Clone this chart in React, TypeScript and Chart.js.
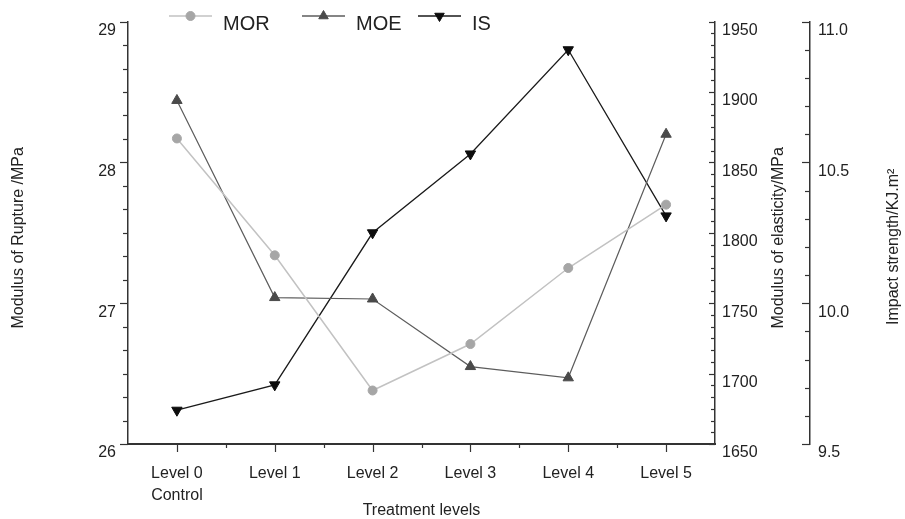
import React, { useEffect, useRef } from 'react';
import { Chart, registerables } from 'chart.js';

Chart.register(...registerables);

// ---- data ----
const categories: (string | string[])[] = [['Level 0', 'Control'], 'Level 1', 'Level 2', 'Level 3', 'Level 4', 'Level 5'];
const seriesNames = ['MOR', 'MOE', 'IS'];
const morValues = [28.17, 27.34, 26.38, 26.71, 27.25, 27.7];
const moeValues = [1894, 1754, 1753, 1705, 1697, 1870];
const isValues = [9.62, 9.71, 10.25, 10.53, 10.9, 10.31];
const morAxis = { min: 26, max: 29, step: 1 };
const moeAxis = { min: 1650, max: 1950, step: 50 };
const isAxis = { min: 9.5, max: 11.0, step: 0.5 };
const axisTitles = {
  x: 'Treatment levels',
  mor: 'Modulus of Rupture /MPa',
  moe: 'Modulus of elasticity/MPa',
  is: 'Impact strength/KJ.m\u00B2',
};

// ---- styles ----
const FONT = '"Liberation Sans", Arial, Helvetica, sans-serif';
const TEXT = '#222222';
const AXIS = '#333333';
const MOR_LINE = '#c2c2c2';
const MOR_PT = '#a6a6a6';
const MOE_LINE = '#5c5c5c';
const MOE_PT = '#4a4a4a';
const IS_LINE = '#1a1a1a';
const IS_PT = '#0d0d0d';

const line = (ctx: CanvasRenderingContext2D, x1: number, y1: number, x2: number, y2: number) => {
  ctx.beginPath();
  ctx.moveTo(x1, y1);
  ctx.lineTo(x2, y2);
  ctx.stroke();
};

const tickPlugin = {
  id: 'customTicks',
  afterDraw(chart: any) {
    const ctx: CanvasRenderingContext2D = chart.ctx;
    ctx.save();
    ctx.strokeStyle = AXIS;
    ctx.lineWidth = 1.2;
    const vTicks = (scale: any, x: number, dir: number, majorLen: number, minorLen: number, div: number) => {
      const vals = scale.ticks.map((t: any) => t.value);
      for (let i = 0; i < vals.length; i++) {
        const y = Math.round(scale.getPixelForValue(vals[i])) + 0.5;
        line(ctx, x, y, x + dir * majorLen, y);
        if (i < vals.length - 1) {
          for (let k = 1; k < div; k++) {
            const v = vals[i] + ((vals[i + 1] - vals[i]) * k) / div;
            const yy = Math.round(scale.getPixelForValue(v)) + 0.5;
            line(ctx, x, yy, x + dir * minorLen, yy);
          }
        }
      }
    };
    const y = chart.scales.y;
    const y1 = chart.scales.y1;
    const y2 = chart.scales.y2;
    const xs = chart.scales.x;
    vTicks(y, y.right, -1, 8, 5, 6);
    vTicks(y1, y1.left, -1, 6, 4, 6);
    vTicks(y2, y2.left, -1, 8, 5, 5);
    const n = categories.length;
    for (let i = 0; i < n; i++) {
      const px = Math.round(xs.getPixelForValue(i)) + 0.5;
      line(ctx, px, xs.top, px, xs.top + 8);
      if (i < n - 1) {
        const mx = Math.round((xs.getPixelForValue(i) + xs.getPixelForValue(i + 1)) / 2) + 0.5;
        line(ctx, mx, xs.top, mx, xs.top + 4);
      }
    }
    ctx.restore();
  },
};

const titlePlugin = {
  id: 'axisTitles',
  afterDraw(chart: any) {
    const ctx: CanvasRenderingContext2D = chart.ctx;
    const ca = chart.chartArea;
    const cy = (ca.top + ca.bottom) / 2;
    ctx.save();
    ctx.fillStyle = TEXT;
    ctx.font = `16px ${FONT}`;
    ctx.textAlign = 'center';
    ctx.textBaseline = 'middle';
    const rot = (text: string, x: number, yy: number) => {
      ctx.save();
      ctx.translate(x, yy);
      ctx.rotate(-Math.PI / 2);
      ctx.fillText(text, 0, 0);
      ctx.restore();
    };
    rot(axisTitles.mor, 19, cy + 5);
    rot(axisTitles.moe, chart.scales.y1.left + 64, cy + 5);
    rot(axisTitles.is, chart.scales.y2.left + 84, cy + 14);
    ctx.fillText(axisTitles.x, (ca.left + ca.right) / 2, 511);
    ctx.restore();
  },
};

const legendPlugin = {
  id: 'customLegend',
  afterDraw(chart: any) {
    const ctx: CanvasRenderingContext2D = chart.ctx;
    const ca = chart.chartArea;
    const starts = [41, 174, 290];
    const lineLen = 43;
    const lineY = 16;
    ctx.save();
    chart.data.datasets.forEach((ds: any, i: number) => {
      const x0 = ca.left + starts[i];
      ctx.strokeStyle = ds.borderColor;
      ctx.lineWidth = 1.5;
      line(ctx, x0, lineY, x0 + lineLen, lineY);
      ctx.fillStyle = ds.pointBackgroundColor;
      ctx.strokeStyle = ds.pointBorderColor;
      ctx.lineWidth = 1;
      const isCircle = ds.pointStyle === 'circle';
      (Chart as any).helpers?.drawPoint;
      const r = isCircle ? 4.5 : 5.5;
      ctx.beginPath();
      if (isCircle) {
        ctx.arc(x0 + lineLen / 2, lineY, r, 0, Math.PI * 2);
      } else {
        const rotation = ((ds.pointRotation || 0) * Math.PI) / 180;
        const cx = x0 + lineLen / 2;
        for (let k = 0; k < 3; k++) {
          const a = rotation + (k * 2 * Math.PI) / 3;
          const px = cx + Math.sin(a) * r;
          const py = lineY - Math.cos(a) * r;
          if (k === 0) ctx.moveTo(px, py);
          else ctx.lineTo(px, py);
        }
        ctx.closePath();
      }
      ctx.fill();
      ctx.stroke();
      ctx.fillStyle = TEXT;
      ctx.font = `20px ${FONT}`;
      ctx.textAlign = 'left';
      ctx.textBaseline = 'middle';
      ctx.fillText(ds.label, x0 + lineLen + 11, 24);
    });
    ctx.restore();
  },
};

export default function App() {
  const canvasRef = useRef<HTMLCanvasElement | null>(null);

  useEffect(() => {
    document.body.style.margin = '0';
    document.body.style.overflow = 'hidden';
    const canvas = canvasRef.current;
    if (!canvas) return;
    Chart.defaults.font.family = FONT;
    Chart.defaults.color = TEXT;

    const borderOpt = { display: true, color: AXIS, width: 1.5 };
    const gridOpt = { display: true, drawOnChartArea: false, drawTicks: false };

    const chart = new Chart(canvas, {
      type: 'line',
      data: {
        labels: categories as any,
        datasets: [
          {
            label: seriesNames[0],
            data: morValues,
            yAxisID: 'y',
            borderColor: MOR_LINE,
            borderWidth: 1.5,
            pointStyle: 'circle',
            pointRadius: 4.5,
            pointBackgroundColor: MOR_PT,
            pointBorderColor: MOR_PT,
            pointBorderWidth: 1,
            tension: 0,
            clip: false as any,
          },
          {
            label: seriesNames[1],
            data: moeValues,
            yAxisID: 'y1',
            borderColor: MOE_LINE,
            borderWidth: 1.2,
            pointStyle: 'triangle',
            pointRadius: 6,
            pointBackgroundColor: MOE_PT,
            pointBorderColor: MOE_PT,
            pointBorderWidth: 1,
            tension: 0,
            clip: false as any,
          },
          {
            label: seriesNames[2],
            data: isValues,
            yAxisID: 'y2',
            borderColor: IS_LINE,
            borderWidth: 1.3,
            pointStyle: 'triangle',
            pointRotation: 180,
            pointRadius: 6,
            pointBackgroundColor: IS_PT,
            pointBorderColor: IS_PT,
            pointBorderWidth: 1,
            tension: 0,
            clip: false as any,
          },
        ],
      },
      options: {
        responsive: false,
        animation: false,
        layout: { padding: { top: 21, left: 0, right: 0, bottom: 0 } },
        plugins: { legend: { display: false }, tooltip: { enabled: false } },
        scales: {
          x: {
            type: 'category',
            offset: true,
            grid: gridOpt,
            border: { ...borderOpt, width: 2 },
            ticks: {
              padding: 19,
              maxRotation: 0,
              autoSkip: false,
              color: TEXT,
              font: { size: 16, lineHeight: 1.375 },
            },
            afterFit: (s: any) => {
              s.height = 75;
            },
          },
          y: {
            type: 'linear',
            position: 'left',
            min: morAxis.min,
            max: morAxis.max,
            grid: gridOpt,
            border: borderOpt,
            ticks: {
              stepSize: morAxis.step,
              padding: 12,
              labelOffset: 9,
              color: TEXT,
              font: { size: 16 },
              callback: (v: any) => String(v),
            },
            afterFit: (s: any) => {
              s.width = 128;
            },
          },
          y1: {
            type: 'linear',
            position: 'right',
            min: moeAxis.min,
            max: moeAxis.max,
            grid: gridOpt,
            border: borderOpt,
            ticks: {
              stepSize: moeAxis.step,
              padding: 7,
              labelOffset: 9,
              color: TEXT,
              font: { size: 16 },
              callback: (v: any) => String(v),
            },
            afterFit: (s: any) => {
              s.width = 95;
            },
          },
          y2: {
            type: 'linear',
            position: 'right',
            min: isAxis.min,
            max: isAxis.max,
            grid: gridOpt,
            border: borderOpt,
            ticks: {
              stepSize: isAxis.step,
              padding: 8,
              labelOffset: 9,
              color: TEXT,
              font: { size: 16 },
              callback: (v: any) => Number(v).toFixed(1),
            },
            afterFit: (s: any) => {
              s.width = 95;
            },
          },
        },
      } as any,
      plugins: [tickPlugin, titlePlugin, legendPlugin],
    });
    return () => chart.destroy();
  }, []);

  return (
    <div style={{ width: 905, height: 519, background: '#ffffff' }}>
      <canvas ref={canvasRef} width={905} height={519} style={{ display: 'block' }} />
    </div>
  );
}
